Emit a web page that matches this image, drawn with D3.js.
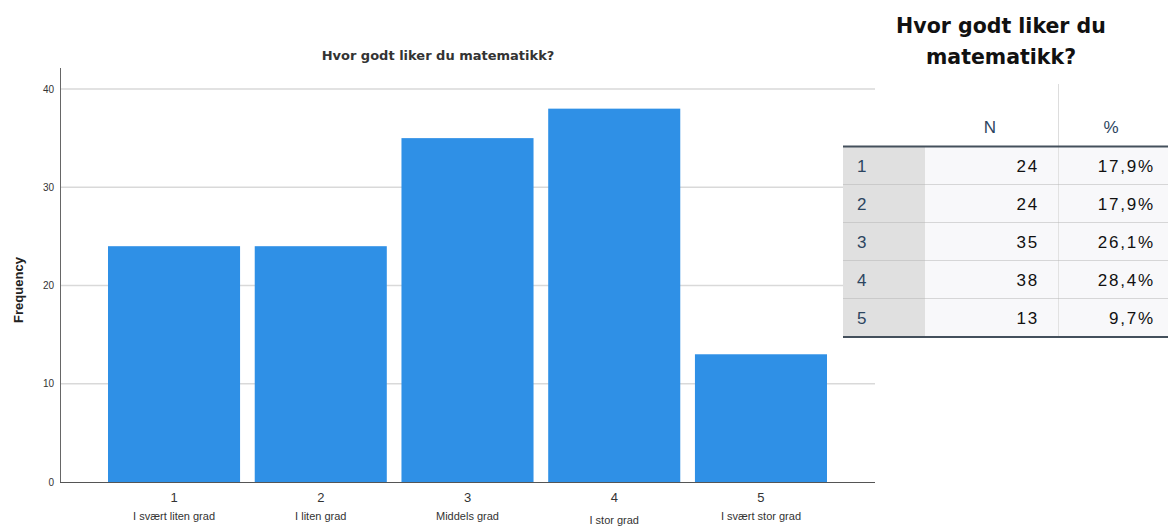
<!DOCTYPE html>
<head>
  <meta charset="utf-8">
  <script src="https://d3js.org/d3.v7.min.js"></script>
  <style>
    body { margin: 0; background: #fff; }
    svg { display: block; }
    .axis text { font-family: 'Liberation Sans', Arial, sans-serif; fill: #333; }
    .y.axis path, .y.axis line { display: none; }
    .grid line { stroke: #d9d9d9; stroke-width: 1.5; }
  </style>
</head>
<body>
  <script>
    var categories = ["1", "2", "3", "4", "5"];
    var labels = ["I svært liten grad", "I liten grad", "Middels grad", "I stor grad", "I svært stor grad"];
    var counts = [24, 24, 35, 38, 13];
    var percents = ["17,9%", "17,9%", "26,1%", "28,4%", "9,7%"];
    var yTicks = [0, 10, 20, 30, 40];
    var title = "Hvor godt liker du matematikk?";

    var svg = d3.select("body").append("svg")
        .attr("width", 1168)
        .attr("height", 526);

    var x = d3.scaleBand()
        .domain(categories)
        .range([108, 827])
        .paddingInner(0.1);

    var y = d3.scaleLinear()
        .domain([0, 40])
        .range([482, 89]);

    // gridlines
    svg.append("g")
        .attr("class", "grid")
      .selectAll("line")
        .data(yTicks.slice(1))
      .enter().append("line")
        .attr("x1", 61)
        .attr("x2", 875)
        .attr("y1", function(d) { return y(d); })
        .attr("y2", function(d) { return y(d); });

    svg.selectAll(".bar")
        .data(counts)
      .enter().append("rect")
        .attr("class", "bar")
        .attr("fill", "#2f90e6")
        .attr("x", function(d, i) { return x(categories[i]); })
        .attr("width", x.bandwidth())
        .attr("y", function(d) { return y(d); })
        .attr("height", function(d) { return y(0) - y(d); });

    // y axis
    svg.append("line")
        .attr("x1", 60.5).attr("x2", 60.5)
        .attr("y1", 68).attr("y2", 482)
        .attr("stroke", "#666");

    svg.append("g")
        .attr("class", "y axis")
        .attr("transform", "translate(60,0)")
        .call(d3.axisLeft(y).tickValues(yTicks).tickSize(0).tickPadding(6))
        .selectAll("text")
        .attr("font-size", "10px");

    // x axis
    svg.append("line")
        .attr("x1", 60).attr("x2", 875)
        .attr("y1", 482.5).attr("y2", 482.5)
        .attr("stroke", "#555");

    var xt = svg.append("g")
        .attr("class", "x axis")
      .selectAll("g")
        .data(categories)
      .enter().append("g")
        .attr("transform", function(d) { return "translate(" + (x(d) + x.bandwidth() / 2) + ",0)"; });

    xt.append("text")
        .attr("y", 502)
        .attr("text-anchor", "middle")
        .attr("font-family", "'Liberation Sans', Arial, sans-serif")
        .attr("font-size", "13px")
        .attr("fill", "#444")
        .text(function(d) { return d; });

    xt.append("text")
        .attr("y", function(d, i) { return i === 3 ? 524 : 520; })
        .attr("text-anchor", "middle")
        .attr("font-family", "'Liberation Sans Narrow', 'Liberation Sans', Arial, sans-serif")
        .attr("font-size", "11px")
        .attr("fill", "#222")
        .text(function(d, i) { return labels[i]; });

    svg.append("text")
        .attr("x", 438)
        .attr("y", 60)
        .attr("text-anchor", "middle")
        .attr("font-family", "'DejaVu Sans', sans-serif")
        .attr("font-weight", "bold")
        .attr("font-size", "13px")
        .attr("fill", "#333")
        .text(title);

    svg.append("text")
        .attr("transform", "translate(23,290) rotate(-90)")
        .attr("text-anchor", "middle")
        .attr("font-family", "'Liberation Sans', Arial, sans-serif")
        .attr("font-weight", "bold")
        .attr("font-size", "13px")
        .attr("fill", "#222")
        .text("Frequency");

    // table
    var t = svg.append("g");
    t.append("text")
        .attr("x", 1001).attr("y", 33)
        .attr("text-anchor", "middle")
        .attr("font-family", "'DejaVu Sans', sans-serif")
        .attr("font-weight", "bold")
        .attr("font-size", "20.5px")
        .attr("fill", "#111")
        .text("Hvor godt liker du");
    t.append("text")
        .attr("x", 1001).attr("y", 64)
        .attr("text-anchor", "middle")
        .attr("font-family", "'DejaVu Sans', sans-serif")
        .attr("font-weight", "bold")
        .attr("font-size", "20.5px")
        .attr("fill", "#111")
        .text("matematikk?");

    var rowY = d3.scaleBand()
        .domain(categories)
        .range([147, 337]);

    t.append("line")
        .attr("x1", 1058.5).attr("x2", 1058.5)
        .attr("y1", 84).attr("y2", 337)
        .attr("stroke", "#ddd");

    var hdrFont = "'Liberation Sans', Arial, sans-serif";
    t.append("text").attr("x", 990).attr("y", 133).attr("text-anchor", "middle")
        .attr("font-family", hdrFont).attr("font-size", "17px").attr("fill", "#2c4560").text("N");
    t.append("text").attr("x", 1111).attr("y", 133).attr("text-anchor", "middle")
        .attr("font-family", hdrFont).attr("font-size", "17px").attr("fill", "#2c4560").text("%");

    var rows = t.selectAll(".row")
        .data(categories)
      .enter().append("g")
        .attr("class", "row")
        .attr("transform", function(d) { return "translate(0," + rowY(d) + ")"; });

    rows.append("rect")
        .attr("x", 843).attr("width", 325)
        .attr("height", rowY.bandwidth())
        .attr("fill", "#f8f8fa");
    rows.append("rect")
        .attr("x", 843).attr("width", 82)
        .attr("height", rowY.bandwidth())
        .attr("fill", "#e0e0e0");
    rows.append("line")
        .attr("x1", 1058.5).attr("x2", 1058.5)
        .attr("y1", 0).attr("y2", rowY.bandwidth())
        .attr("stroke", "#e2e2e2");
    rows.append("line")
        .attr("x1", 843).attr("x2", 1168)
        .attr("y1", rowY.bandwidth()).attr("y2", rowY.bandwidth())
        .attr("stroke", "#b5b5b5");
    rows.append("text")
        .attr("x", 857).attr("y", rowY.bandwidth() / 2 + 6)
        .attr("font-family", hdrFont).attr("font-size", "17px").attr("fill", "#2c4560")
        .text(function(d) { return d; });
    rows.append("text")
        .attr("x", 1039).attr("y", rowY.bandwidth() / 2 + 6)
        .attr("text-anchor", "end")
        .attr("font-family", hdrFont).attr("font-size", "17px").attr("letter-spacing", "1.8px").attr("fill", "#111")
        .text(function(d, i) { return counts[i]; });
    rows.append("text")
        .attr("x", 1155).attr("y", rowY.bandwidth() / 2 + 6)
        .attr("text-anchor", "end")
        .attr("font-family", hdrFont).attr("font-size", "17px").attr("letter-spacing", "1.8px").attr("fill", "#111")
        .text(function(d, i) { return percents[i]; });

    t.append("line")
        .attr("x1", 843).attr("x2", 1168)
        .attr("y1", 146.5).attr("y2", 146.5)
        .attr("stroke", "#44505c").attr("stroke-width", 2);
    t.append("line")
        .attr("x1", 843).attr("x2", 1168)
        .attr("y1", 337).attr("y2", 337)
        .attr("stroke", "#44505c").attr("stroke-width", 2);
  </script>
</body>
